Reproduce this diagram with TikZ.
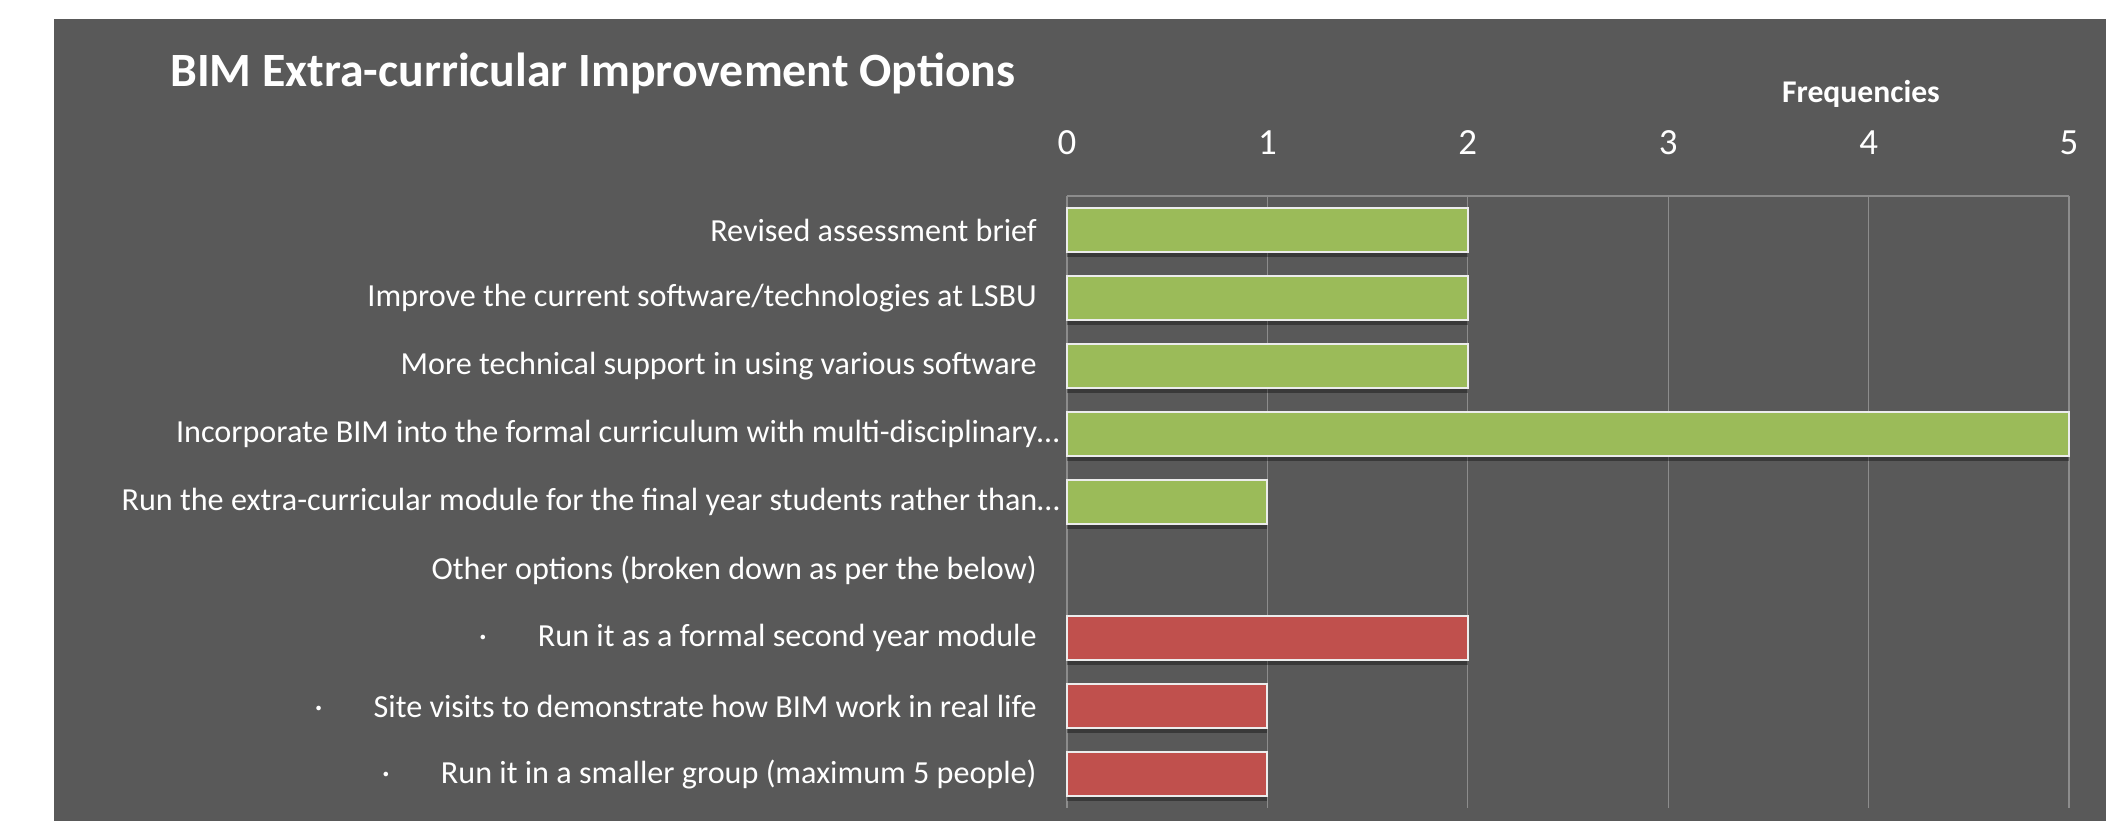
\documentclass[tikz,border=0pt]{standalone}
\usepackage{fontspec}
\setmainfont{Carlito}

\definecolor{panel}{RGB}{89,89,89}
\definecolor{barGreen}{RGB}{155,187,89}
\definecolor{barRed}{RGB}{192,80,77}
\definecolor{gridGray}{RGB}{140,140,140}

\tikzstyle{catlabel}=[anchor=east, text=white, inner sep=0pt, font=\fontsize{18.3}{22}\selectfont]
\tikzstyle{ticklabel}=[text=white, inner sep=0pt, font=\fontsize{21}{25}\selectfont]
\tikzstyle{barbox}=[draw=white!85!gray, line width=1.1pt]
\tikzstyle{barshadow}=[fill=black, opacity=0.35]
\tikzstyle{gridline}=[draw=gridGray, line width=0.6pt]

\begin{document}
\begin{tikzpicture}[x=0.02cm, y=-0.02cm]
      \useasboundingbox (0,0) rectangle (2106,821);
      \fill[white] (0,0) rectangle (2106,821);
      \fill[panel] (54,19) rectangle (2106,821);

      \node[anchor=west, text=white, inner sep=0pt, font=\bfseries\fontsize{27.2}{32}\selectfont] (title) at (170,73) {BIM Extra-curricular Improvement Options};
      \node[text=white, inner sep=0pt, font=\bfseries\fontsize{18}{22}\selectfont] (freq) at (1861,94) {Frequencies};

      % axis and grid
      \foreach \k in {0,...,5} {
        \draw[gridline] (1067+200.4*\k,196) -- (1067+200.4*\k,808);
        \node[ticklabel] (t\k) at (1067+200.4*\k,143) {\k};
      }
      \draw[gridline] (1067,196) -- (2069,196);

      % bars
      \foreach \i/\v/\c in {0/2/barGreen, 1/2/barGreen, 2/2/barGreen, 3/5/barGreen, 4/1/barGreen, 6/2/barRed, 7/1/barRed, 8/1/barRed} {
        \pgfmathsetmacro{\yc}{230+68*\i}
        \fill[barshadow] (1067,\yc-18) rectangle (1067+200.4*\v,\yc+27);
        \draw[barbox, fill=\c] (1067,\yc-22) rectangle (1067+200.4*\v,\yc+22);
      }

      \node[catlabel] (brief) at (1037,230) {Revised assessment brief};
      \node[catlabel] (software) at (1037,298) {Improve the current software/technologies at LSBU};
      \node[catlabel] (support) at (1037,366) {More technical support in using various software};
      \node[catlabel] (curriculum) at (1060,434) {Incorporate BIM into the formal curriculum with multi-disciplinary…};
      \node[catlabel] (finalyear) at (1060,502) {Run the extra-curricular module for the final year students rather than…};
      \node[catlabel] (other) at (1037,570) {Other options (broken down as per the below)};
      \node[catlabel] (secondyear) at (1037,638) {·\hspace{29pt}Run it as a formal second year module};
      \node[catlabel] (visits) at (1037,706) {·\hspace{29pt}Site visits to demonstrate how BIM work in real life};
      \node[catlabel] (smaller) at (1037,774) {·\hspace{29pt}Run it in a smaller group (maximum 5 people)};
    \end{tikzpicture}
\end{document}
